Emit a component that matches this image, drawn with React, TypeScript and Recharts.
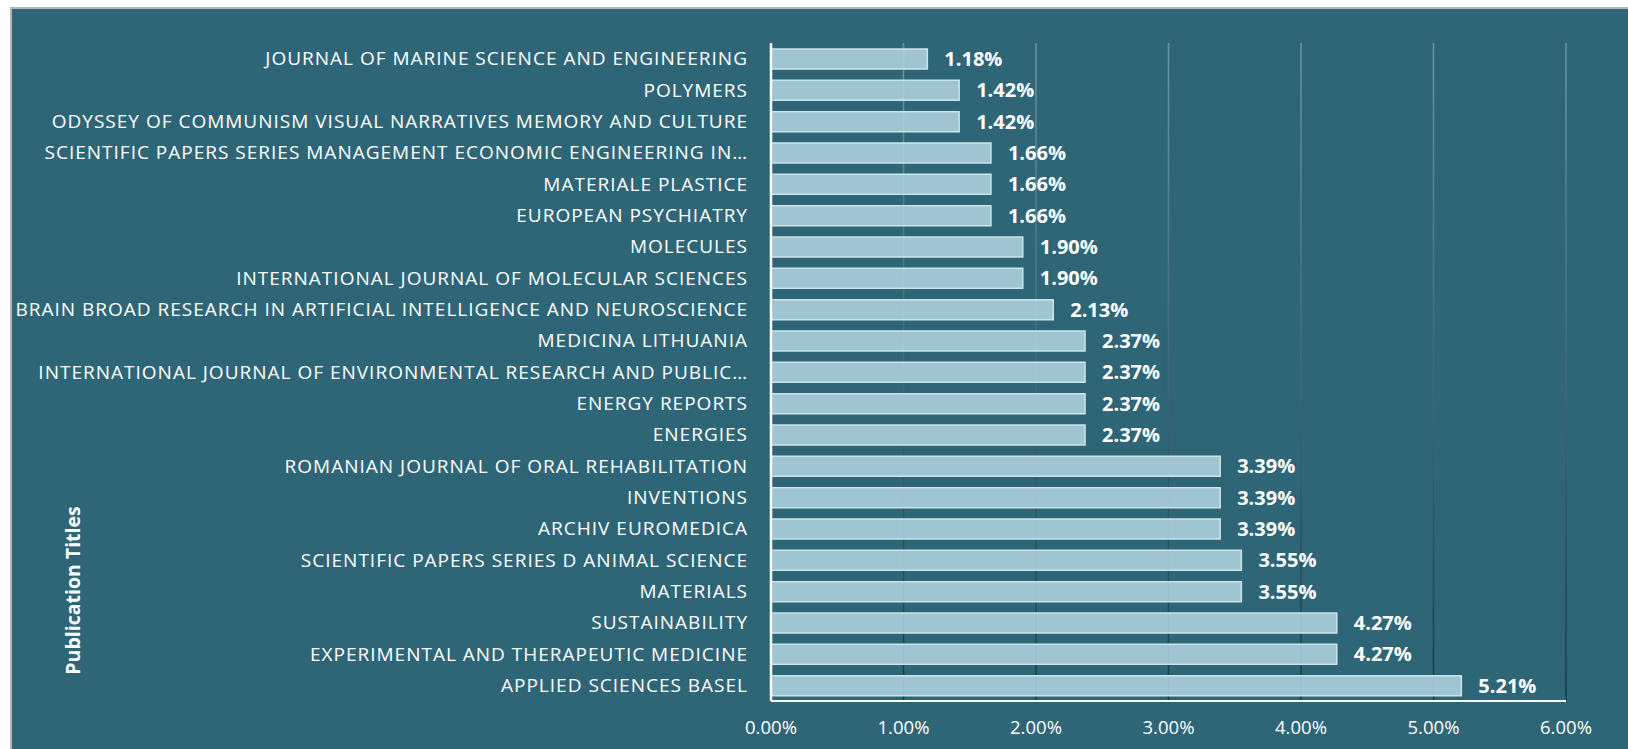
import { BarChart, Bar, XAxis, YAxis, CartesianGrid, LabelList, Label } from "recharts"

const titles = [
  "JOURNAL OF MARINE SCIENCE AND ENGINEERING",
  "POLYMERS",
  "ODYSSEY OF COMMUNISM VISUAL NARRATIVES MEMORY AND CULTURE",
  "SCIENTIFIC PAPERS SERIES MANAGEMENT ECONOMIC ENGINEERING IN…",
  "MATERIALE PLASTICE",
  "EUROPEAN PSYCHIATRY",
  "MOLECULES",
  "INTERNATIONAL JOURNAL OF MOLECULAR SCIENCES",
  "BRAIN BROAD RESEARCH IN ARTIFICIAL INTELLIGENCE AND NEUROSCIENCE",
  "MEDICINA LITHUANIA",
  "INTERNATIONAL JOURNAL OF ENVIRONMENTAL RESEARCH AND PUBLIC…",
  "ENERGY REPORTS",
  "ENERGIES",
  "ROMANIAN JOURNAL OF ORAL REHABILITATION",
  "INVENTIONS",
  "ARCHIV EUROMEDICA",
  "SCIENTIFIC PAPERS SERIES D ANIMAL SCIENCE",
  "MATERIALS",
  "SUSTAINABILITY",
  "EXPERIMENTAL AND THERAPEUTIC MEDICINE",
  "APPLIED SCIENCES BASEL",
]

const shares = [
  1.18, 1.42, 1.42, 1.66, 1.66, 1.66, 1.9, 1.9, 2.13, 2.37, 2.37, 2.37, 2.37, 3.39, 3.39, 3.39, 3.55,
  3.55, 4.27, 4.27, 5.21,
]

const xTicks = [0, 1, 2, 3, 4, 5, 6]

const data = titles.map((name, i) => ({ name, share: shares[i] }))

const FONT = "'Open Sans', Lato, sans-serif"

function AxisTitle({ viewBox }: { viewBox?: { x: number; y: number; width: number; height: number } }) {
  if (!viewBox) return null
  const cx = viewBox.x + 61
  const cy = viewBox.y + viewBox.height * 0.832
  return (
    <text
      x={cx}
      y={cy}
      transform={`rotate(-90 ${cx} ${cy})`}
      textAnchor="middle"
      dominantBaseline="central"
      fill="#ffffff"
      fontWeight={700}
      fontSize={19.5}
      fontFamily={FONT}
    >
      Publication Titles
    </text>
  )
}

export default function App() {
  return (
    <div
      style={{
        position: "absolute",
        left: 10,
        top: 7,
        width: 1616,
        height: 740,
        background: "#2E6678",
        borderLeft: "2px solid #b4b4b4",
        borderTop: "2px solid #b4b4b4",
        fontFamily: FONT,
      }}
    >
      <BarChart
        width={1616}
        height={740}
        data={data}
        layout="vertical"
        margin={{ top: 34, right: 62, left: 0, bottom: 0 }}
        barSize={20}
      >
        <defs>
          <linearGradient id="gridFade" gradientUnits="userSpaceOnUse" x1="0" y1="34" x2="0" y2="692">
            <stop offset="0%" stopColor="#6a97a6" />
            <stop offset="100%" stopColor="#1b3842" />
          </linearGradient>
        </defs>
        <CartesianGrid horizontal={false} stroke="url(#gridFade)" strokeWidth={1.5} />
        <XAxis
          type="number"
          domain={[0, 6]}
          ticks={xTicks}
          height={48}
          tickFormatter={(v: number) => `${v.toFixed(2)}%`}
          tick={{ fill: "#ffffff", fontSize: 18.5, fontFamily: FONT }}
          tickSize={0}
          tickMargin={20}
          axisLine={{ stroke: "#ffffff", strokeWidth: 2 }}
        />
        <YAxis
          type="category"
          dataKey="name"
          width={759}
          interval={0}
          tick={{ fill: "#ffffff", fontSize: 19, fontFamily: FONT, style: { letterSpacing: "1px" } }}
          tickSize={0}
          tickMargin={23}
          axisLine={{ stroke: "#ffffff", strokeWidth: 2.5 }}
        >
          <Label content={<AxisTitle />} />
        </YAxis>
        <Bar
          dataKey="share"
          fill="#b3d6e3"
          fillOpacity={0.85}
          stroke="#cfe3ea"
          strokeWidth={1.5}
          isAnimationActive={false}
        >
          <LabelList
            dataKey="share"
            position="right"
            offset={17}
            fill="#ffffff"
            fontWeight={700}
            fontSize={20}
            fontFamily={FONT}
            formatter={(v: number) => `${v.toFixed(2)}%`}
          />
        </Bar>
      </BarChart>
    </div>
  )
}
